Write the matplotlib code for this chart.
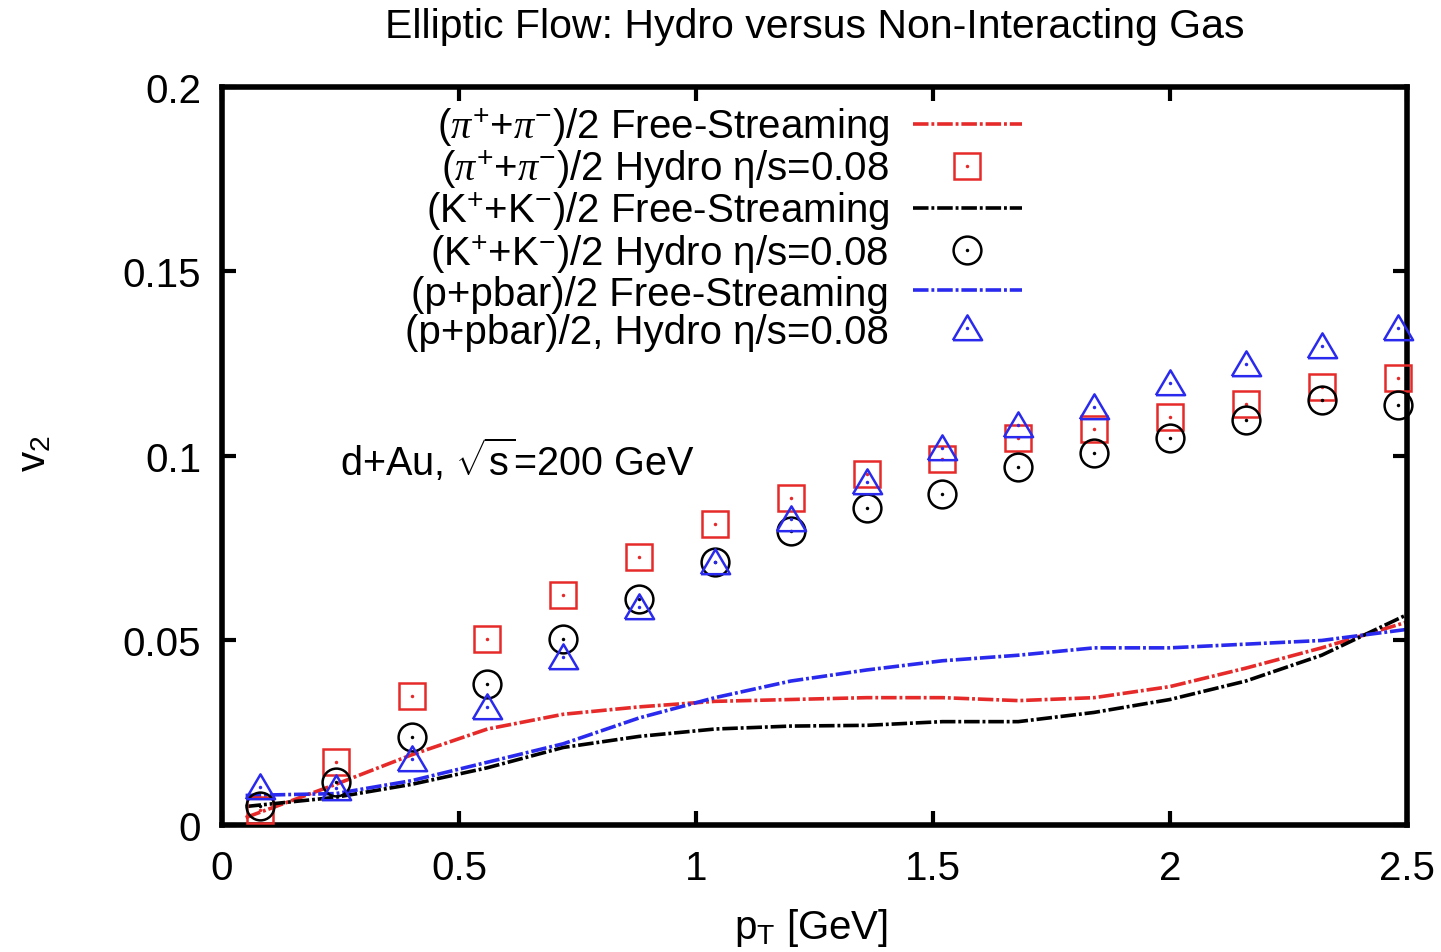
import matplotlib
matplotlib.use("Agg")
import matplotlib.pyplot as plt

plt.rcParams["font.family"] = ["Liberation Sans", "DejaVu Sans"]
plt.rcParams["mathtext.fontset"] = "custom"
plt.rcParams["mathtext.rm"] = "Liberation Sans"
plt.rcParams["mathtext.it"] = "Liberation Serif:italic"

# ---------------------------------------------------------------------------
# Data
# ---------------------------------------------------------------------------
pt_hydro = [0.08, 0.24, 0.40, 0.56, 0.72, 0.88, 1.04, 1.20,
            1.36, 1.52, 1.68, 1.84, 2.00, 2.16, 2.32, 2.48]
v2_pion_hydro = [0.0040, 0.0171, 0.0350, 0.0504, 0.0623, 0.0726, 0.0816, 0.0886,
                 0.0951, 0.0992, 0.1049, 0.1073, 0.1106, 0.1141, 0.1187, 0.1211]
v2_kaon_hydro = [0.0051, 0.0117, 0.0239, 0.0382, 0.0504, 0.0612, 0.0713, 0.0797,
                 0.0859, 0.0897, 0.0970, 0.1008, 0.1049, 0.1097, 0.1152, 0.1138]
v2_proton_hydro = [0.0103, 0.0100, 0.0179, 0.0320, 0.0455, 0.0590, 0.0713, 0.0830,
                   0.0930, 0.1022, 0.1084, 0.1133, 0.1198, 0.1249, 0.1298, 0.1347]

pt_fs = [0.05, 0.24, 0.40, 0.56, 0.72, 0.88, 1.04, 1.20,
         1.36, 1.52, 1.68, 1.84, 2.00, 2.16, 2.32, 2.50]
v2_pion_fs = [0.0020, 0.0110, 0.0190, 0.0260, 0.0300, 0.0320, 0.0335, 0.0340,
              0.0345, 0.0345, 0.0337, 0.0345, 0.0375, 0.0425, 0.0480, 0.0550]
v2_kaon_fs = [0.0050, 0.0075, 0.0110, 0.0155, 0.0210, 0.0240, 0.0260, 0.0268,
              0.0270, 0.0280, 0.0280, 0.0305, 0.0340, 0.0390, 0.0460, 0.0570]
v2_proton_fs = [0.0080, 0.0085, 0.0120, 0.0170, 0.0220, 0.0290, 0.0345, 0.0390,
                0.0420, 0.0445, 0.0460, 0.0480, 0.0480, 0.0490, 0.0500, 0.0530]

RED = "#e62a2a"
BLACK = "#000000"
BLUE = "#2a2aee"
FS = 29
LW = 2.6
DASH = (0, (4.3, 0.8, 0.8, 0.8))
# open triangle, a bit flatter than matplotlib's '^'
TRI = [(-1, -0.8), (1, -0.8), (0, 0.9), (-1, -0.8)]

# ---------------------------------------------------------------------------
# Figure
# ---------------------------------------------------------------------------
fig = plt.figure(figsize=(14.41, 9.53), dpi=100)
ax = fig.add_axes([0.154, 0.1333, 0.8224, 0.7744])


def hydro(x, y, marker, color, ms=20):
    h1, = ax.plot(x, y, linestyle="none", marker=marker, ms=ms, mfc="none",
                  mec=color, mew=1.8, clip_on=False, zorder=4)
    h2, = ax.plot(x, y, linestyle="none", marker="o", ms=2.5, mfc=color,
                  mec=color, mew=0, clip_on=False, zorder=4)
    return (h1, h2)


h_pi_fs, = ax.plot(pt_fs, v2_pion_fs, color=RED, lw=LW, linestyle=DASH)
h_pi_hy = hydro(pt_hydro, v2_pion_hydro, "s", RED, ms=19)
h_k_fs, = ax.plot(pt_fs, v2_kaon_fs, color=BLACK, lw=LW, linestyle=DASH)
h_k_hy = hydro(pt_hydro, v2_kaon_hydro, "o", BLACK)
h_p_fs, = ax.plot(pt_fs, v2_proton_fs, color=BLUE, lw=LW, linestyle=DASH)
h_p_hy = hydro(pt_hydro, v2_proton_hydro, TRI, BLUE, ms=21)

ax.set_xlim(0, 2.5)
ax.set_ylim(0, 0.2)
ax.set_xticks([0, 0.5, 1, 1.5, 2, 2.5])
ax.set_xticklabels(["0", "0.5", "1", "1.5", "2", "2.5"])
ax.set_yticks([0, 0.05, 0.1, 0.15, 0.2])
ax.set_yticklabels(["0", "0.05", "0.1", "0.15", "0.2"])
ax.tick_params(direction="in", length=10, width=3, top=True, right=True,
               labelsize=FS, pad=15)
ax.tick_params(axis="x", pad=17)
for s in ax.spines.values():
    s.set_linewidth(4)

ax.set_xlabel(r"p$_{\mathrm{T}}$ [GeV]", fontsize=FS, va="center")
ax.xaxis.set_label_coords(0.497, -0.138)
ax.set_ylabel(r"v$_{\mathrm{2}}$", fontsize=FS, va="center", rotation=90)
ax.yaxis.set_label_coords(-0.158, 0.505)

ax.text(0.5, 1.083, "Elliptic Flow: Hydro versus Non-Interacting Gas",
        transform=ax.transAxes, ha="center", va="center", fontsize=FS + 0.5)
ax.text(0.100, 0.496, r"d+Au, $\sqrt{\mathrm{s}}$=200 GeV",
        transform=ax.transAxes, ha="left", va="center", fontsize=FS - 0.5)

labels = [
    r"($\pi^{+}$+$\pi^{-}$)/2 Free-Streaming",
    r"($\pi^{+}$+$\pi^{-}$)/2 Hydro η/s=0.08",
    r"(K$^{+}$+K$^{-}$)/2 Free-Streaming",
    r"(K$^{+}$+K$^{-}$)/2 Hydro η/s=0.08",
    "(p+pbar)/2 Free-Streaming",
    "(p+pbar)/2, Hydro η/s=0.08",
]
ax.legend([h_pi_fs, h_pi_hy, h_k_fs, h_k_hy, h_p_fs, h_p_hy], labels,
          loc="upper right", bbox_to_anchor=(0.675, 0.974), frameon=False,
          markerfirst=False, numpoints=1, fontsize=FS, handlelength=2.7,
          handletextpad=0.6, labelspacing=0.0, borderpad=0, borderaxespad=0)

fig.savefig("out.png", dpi=100)
